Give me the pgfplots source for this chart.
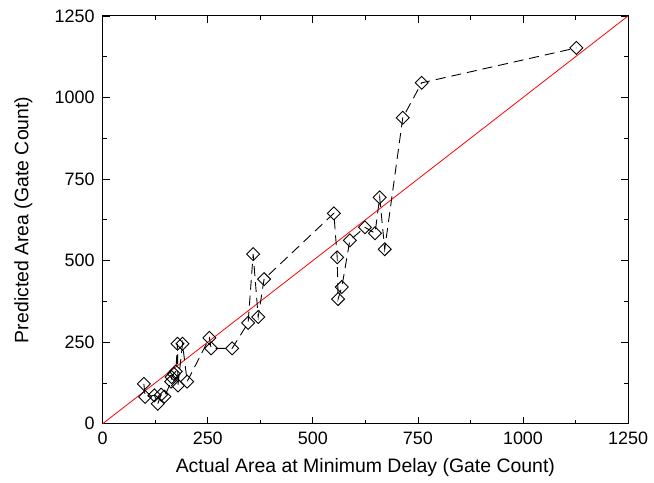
\documentclass[border=0pt]{standalone}
\usepackage{pgfplots}
\pgfplotsset{compat=1.18}
\usepackage{fontspec}
\setmainfont{Liberation Sans}
\begin{document}
\fontsize{18bp}{21bp}\selectfont
\begin{tikzpicture}
\begin{axis}[
  scale only axis,
  width=527bp, height=409bp,
  xmin=0, xmax=1250, ymin=0, ymax=1250,
  xtick={0,250,...,1250}, ytick={0,250,...,1250},
  minor tick num=1,
  tick align=inside,
  major tick length=7bp, minor tick length=4bp,
  every tick/.style={black, line width=0.8bp},
  axis line style={line width=1.1bp},
  /pgf/number format/assume math mode=true,
  /pgf/number format/1000 sep={},
  xticklabel style={yshift=-2bp},
  yticklabel style={xshift=-2bp},
  xlabel={Actual Area at Minimum Delay (Gate Count)},
  ylabel={Predicted Area (Gate Count)},
  label style={font=\fontsize{19.5bp}{23bp}\selectfont},
  xlabel style={yshift=-2bp},
  ylabel style={yshift=10bp},
  clip=false,
]
\addplot[red, line width=0.8bp, forget plot] coordinates {(0,0) (1250,1250)};
\addplot[black, line width=0.9bp, dash pattern=on 10bp off 6bp,
  mark=square, mark size=4.6bp, mark options={rotate=45, solid, fill=none, line width=0.9bp}]
coordinates {
(98,122)
(101,82)
(123,87)
(131,61)
(139,89)
(147,83)
(163,129)
(164,143)
(169,153)
(174,160)
(178,245)
(179,117)
(190,245)
(201,129)
(254,263)
(258,231)
(308,231)
(346,309)
(358,520)
(370,327)
(384,443)
(550,645)
(558,510)
(560,382)
(569,419)
(588,562)
(624,602)
(648,584)
(659,694)
(671,535)
(714,938)
(759,1045)
(1127,1152)
};
\end{axis}
\path (current axis.south west) ++(-103bp,-58bp) (current axis.north east) ++(24bp,16bp);
\end{tikzpicture}
\end{document}
